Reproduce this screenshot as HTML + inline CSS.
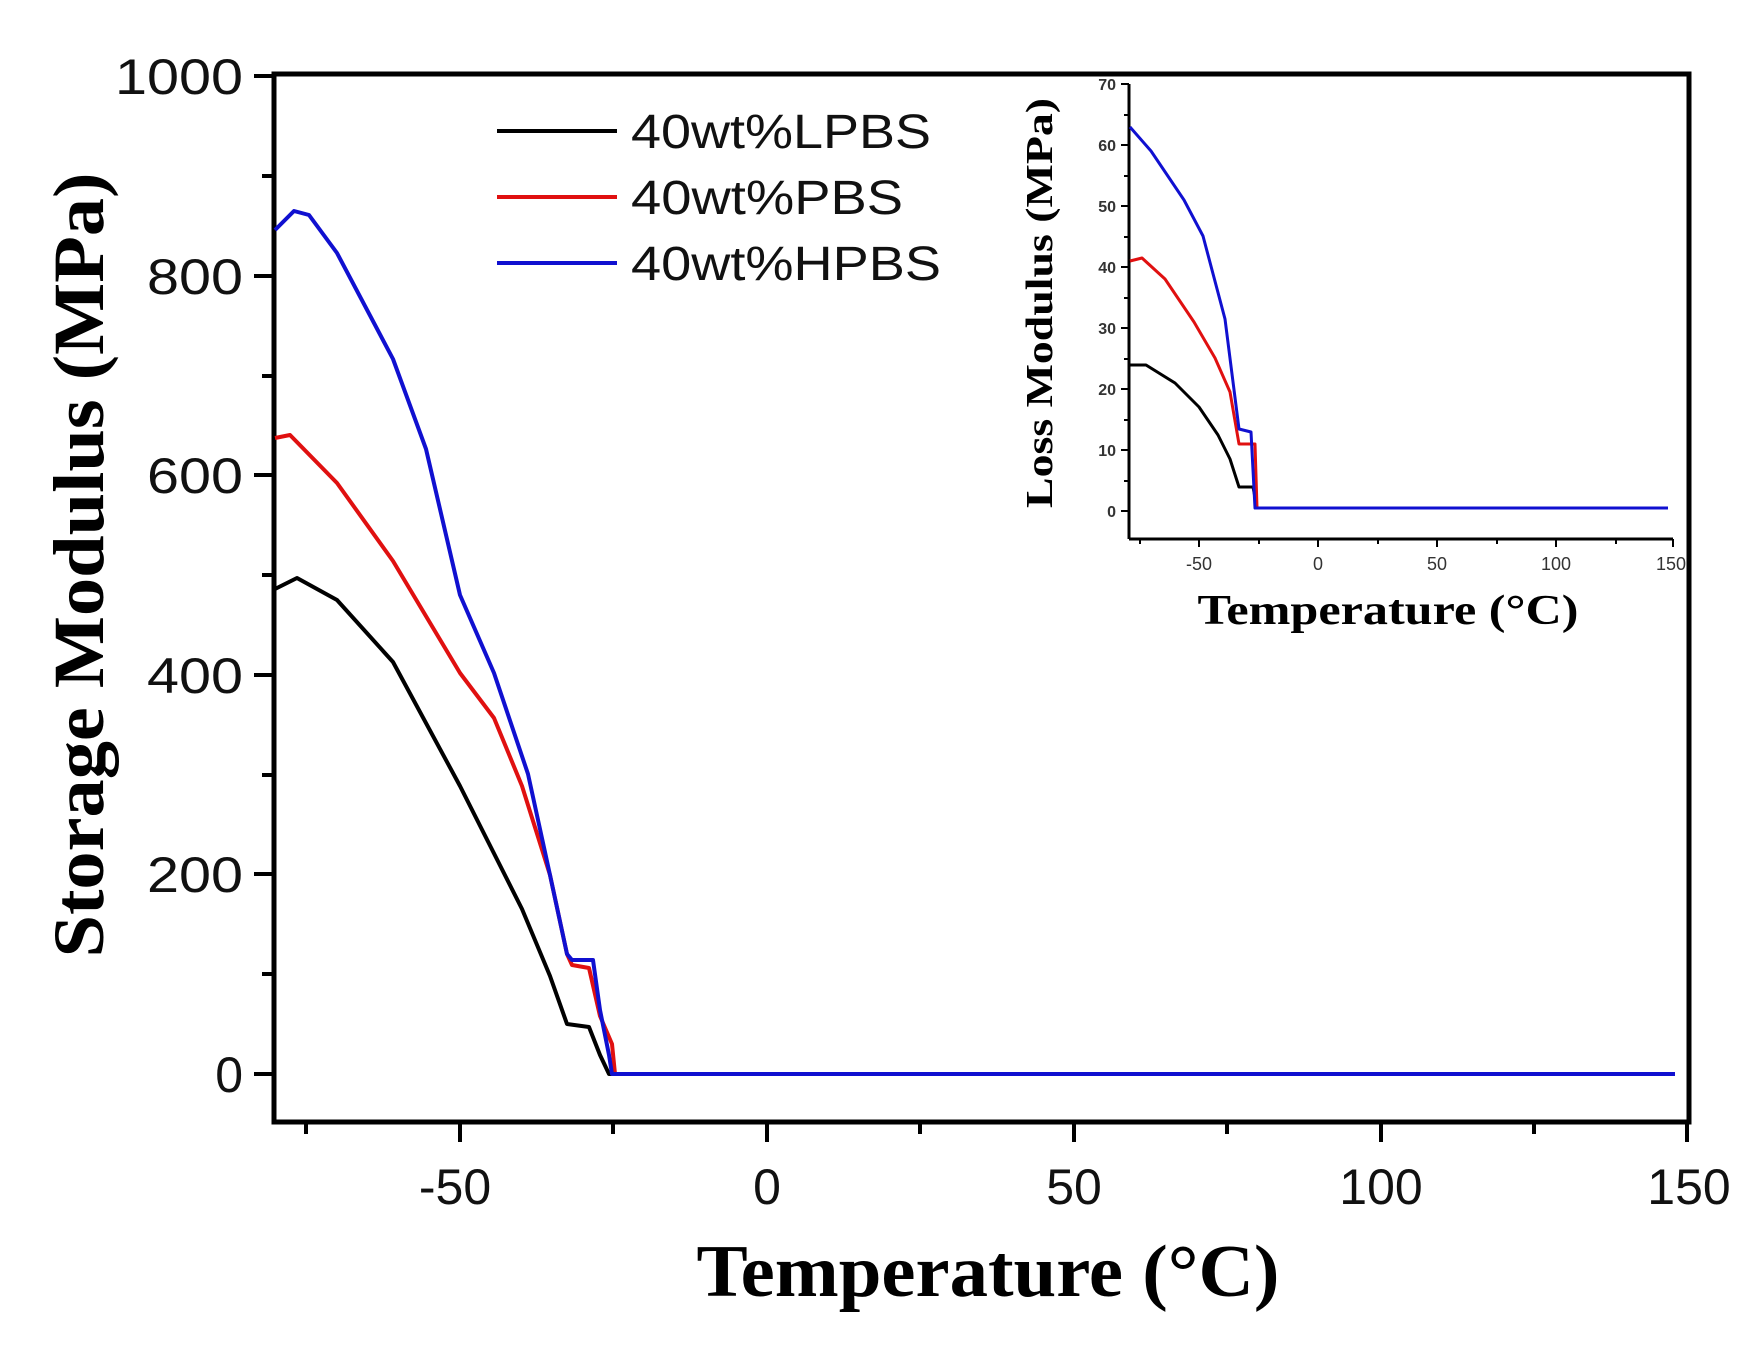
<!DOCTYPE html>
<html><head><meta charset="utf-8"><style>body{margin:0;background:#fff}svg{display:block}</style></head>
<body>
<svg width="1760" height="1346" viewBox="0 0 1760 1346" xmlns="http://www.w3.org/2000/svg">
<rect width="1760" height="1346" fill="#fff"/>
<rect x="274" y="74" width="1415" height="1048" fill="none" stroke="#000" stroke-width="5"/>
<g stroke="#000" stroke-width="4">
 <line x1="254" y1="76" x2="274" y2="76"/><line x1="254" y1="276" x2="274" y2="276"/><line x1="254" y1="475" x2="274" y2="475"/><line x1="254" y1="675" x2="274" y2="675"/><line x1="254" y1="874" x2="274" y2="874"/><line x1="254" y1="1074" x2="274" y2="1074"/>
 <line x1="262" y1="176" x2="274" y2="176"/><line x1="262" y1="376" x2="274" y2="376"/><line x1="262" y1="575" x2="274" y2="575"/><line x1="262" y1="775" x2="274" y2="775"/><line x1="262" y1="974" x2="274" y2="974"/>
 <line x1="460" y1="1122" x2="460" y2="1142"/><line x1="767" y1="1122" x2="767" y2="1142"/><line x1="1074" y1="1122" x2="1074" y2="1142"/><line x1="1381" y1="1122" x2="1381" y2="1142"/><line x1="1687" y1="1122" x2="1687" y2="1142"/>
 <line x1="306" y1="1122" x2="306" y2="1134"/><line x1="613" y1="1122" x2="613" y2="1134"/><line x1="920" y1="1122" x2="920" y2="1134"/><line x1="1227" y1="1122" x2="1227" y2="1134"/><line x1="1534" y1="1122" x2="1534" y2="1134"/>
</g>
<g font-family="Liberation Sans, sans-serif" font-size="50" fill="#111" text-anchor="end">
 <text x="243" y="94" textLength="128" lengthAdjust="spacingAndGlyphs">1000</text><text x="243" y="294" textLength="96" lengthAdjust="spacingAndGlyphs">800</text><text x="243" y="493" textLength="96" lengthAdjust="spacingAndGlyphs">600</text><text x="243" y="693" textLength="96" lengthAdjust="spacingAndGlyphs">400</text><text x="243" y="892" textLength="96" lengthAdjust="spacingAndGlyphs">200</text><text x="243" y="1092">0</text>
</g>
<g font-family="Liberation Sans, sans-serif" font-size="50" fill="#111" text-anchor="middle">
 <text x="455" y="1204">-50</text><text x="767" y="1204">0</text><text x="1074" y="1204">50</text><text x="1381" y="1204">100</text><text x="1689" y="1204">150</text>
</g>
<text x="988" y="1296" font-family="Liberation Serif, serif" font-weight="bold" font-size="74" text-anchor="middle" textLength="583" lengthAdjust="spacingAndGlyphs">Temperature (°C)</text>
<text transform="translate(103,565) rotate(-90)" font-family="Liberation Serif, serif" font-weight="bold" font-size="72" text-anchor="middle" textLength="785" lengthAdjust="spacingAndGlyphs">Storage Modulus (MPa)</text>
<g stroke-width="4"><line x1="497" y1="131" x2="617" y2="131" stroke="#000"/><line x1="497" y1="197" x2="617" y2="197" stroke="#e01010"/><line x1="497" y1="263" x2="617" y2="263" stroke="#1010d0"/></g>
<g font-family="Liberation Sans, sans-serif" font-size="48" fill="#111">
 <text x="631" y="148" textLength="300" lengthAdjust="spacingAndGlyphs">40wt%LPBS</text><text x="631" y="214" textLength="272" lengthAdjust="spacingAndGlyphs">40wt%PBS</text><text x="631" y="280" textLength="310" lengthAdjust="spacingAndGlyphs">40wt%HPBS</text></g>
<g fill="none" stroke-width="4" stroke-linejoin="round">
<polyline stroke="#000" points="275,589 297,578 337,600 393,662 460,786 522,909 550,976 567,1024 589,1027 600,1055 609,1074 1675,1074"/>
<polyline stroke="#e01010" points="275,438 290,435 337,483 393,561 460,673 494,718 522,786 550,875 567,954 572,965 589,968 600,1016 612,1044 615,1074 1675,1074"/>
<polyline stroke="#1010d0" points="275,230 294,211 309,215 337,253 393,359 426,449 460,595 494,673 528,774 550,875 567,954 572,960 593,960 600,1010 609,1055 612,1074 1675,1074"/>
</g>
<!-- inset -->
<g stroke="#000" stroke-width="3" fill="none">
 <line x1="1129" y1="84" x2="1129" y2="539"/><line x1="1129" y1="539" x2="1673" y2="539"/>
</g>
<g stroke="#000" stroke-width="2">
 <line x1="1121" y1="84" x2="1129" y2="84"/><line x1="1121" y1="145" x2="1129" y2="145"/><line x1="1121" y1="206" x2="1129" y2="206"/><line x1="1121" y1="267" x2="1129" y2="267"/><line x1="1121" y1="328" x2="1129" y2="328"/><line x1="1121" y1="389" x2="1129" y2="389"/><line x1="1121" y1="450" x2="1129" y2="450"/><line x1="1121" y1="511" x2="1129" y2="511"/>
 <line x1="1124" y1="115" x2="1129" y2="115"/><line x1="1124" y1="176" x2="1129" y2="176"/><line x1="1124" y1="237" x2="1129" y2="237"/><line x1="1124" y1="298" x2="1129" y2="298"/><line x1="1124" y1="359" x2="1129" y2="359"/><line x1="1124" y1="420" x2="1129" y2="420"/><line x1="1124" y1="481" x2="1129" y2="481"/>
 <line x1="1199" y1="539" x2="1199" y2="547"/><line x1="1318" y1="539" x2="1318" y2="547"/><line x1="1437" y1="539" x2="1437" y2="547"/><line x1="1556" y1="539" x2="1556" y2="547"/><line x1="1673" y1="539" x2="1673" y2="547"/>
 <line x1="1140" y1="539" x2="1140" y2="544"/><line x1="1259" y1="539" x2="1259" y2="544"/><line x1="1378" y1="539" x2="1378" y2="544"/><line x1="1497" y1="539" x2="1497" y2="544"/><line x1="1616" y1="539" x2="1616" y2="544"/>
</g>
<g font-family="Liberation Sans, sans-serif" font-size="16" font-weight="bold" fill="#333" text-anchor="end">
 <text x="1116" y="90">70</text><text x="1116" y="151">60</text><text x="1116" y="212">50</text><text x="1116" y="273">40</text><text x="1116" y="334">30</text><text x="1116" y="395">20</text><text x="1116" y="456">10</text><text x="1116" y="517">0</text>
</g>
<g font-family="Liberation Sans, sans-serif" font-size="18" fill="#333" text-anchor="middle">
 <text x="1199" y="570">-50</text><text x="1318" y="570">0</text><text x="1437" y="570">50</text><text x="1556" y="570">100</text><text x="1671" y="570">150</text>
</g>
<text x="1388" y="624" font-family="Liberation Serif, serif" font-weight="bold" font-size="42" text-anchor="middle" textLength="381" lengthAdjust="spacingAndGlyphs">Temperature (°C)</text>
<text transform="translate(1052,303) rotate(-90)" font-family="Liberation Serif, serif" font-weight="bold" font-size="38" text-anchor="middle" textLength="410" lengthAdjust="spacingAndGlyphs">Loss Modulus (MPa)</text>
<g fill="none" stroke-width="3" stroke-linejoin="round">
<polyline stroke="#000" points="1130,365 1146,365 1175,383 1199,407 1218,435 1230,459 1239,487 1253,487 1257,508 1668,508"/>
<polyline stroke="#e01010" points="1130,261 1142,258 1165,279 1194,322 1215,358 1230,392 1239,444 1255,444 1257,508 1668,508"/>
<polyline stroke="#1010d0" points="1130,127 1151,151 1184,200 1203,236 1225,319 1239,429 1251,432 1255,508 1668,508"/>
</g>
</svg>
</body></html>
